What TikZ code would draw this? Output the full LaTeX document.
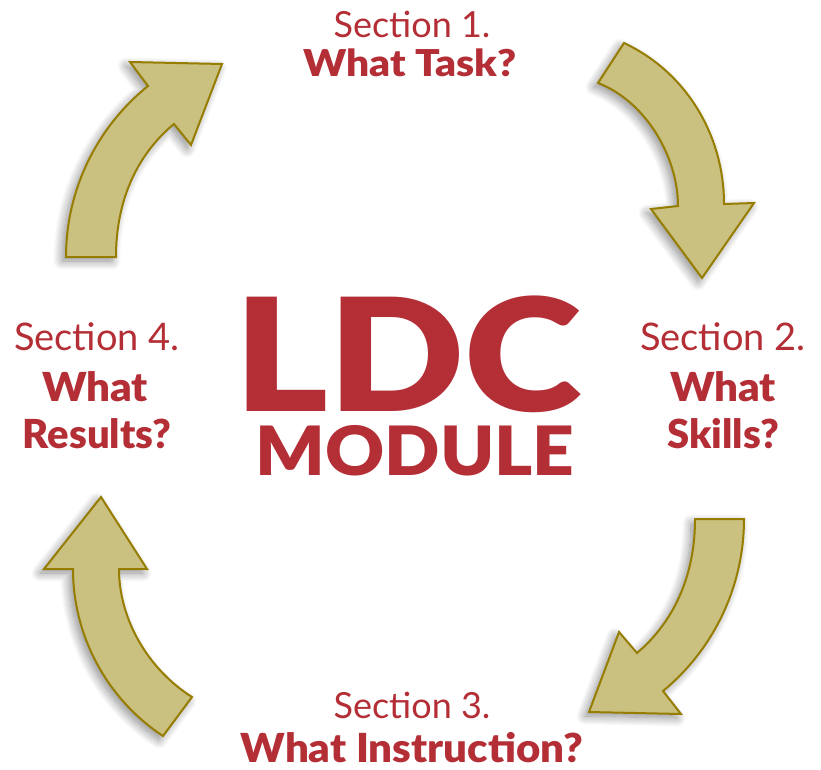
\documentclass[tikz,border=0pt]{standalone}
\usepackage{fontspec}
\setmainfont{Lato}
\newfontfamily\heavy{Lato Black}
\newfontfamily\heavywide{Lato Black}[FakeStretch=1.1]
\newfontfamily\heavymid{Lato Black}[FakeStretch=1.05]
\newfontfamily\heavyldc{Lato Black}[FakeStretch=1.14]
\newfontfamily\heavymod{Lato Black}[FakeStretch=1.07]
\usetikzlibrary{shadows.blur}
\definecolor{ldcred}{RGB}{180,46,54}
\definecolor{arrowfill}{RGB}{202,192,128}
\definecolor{arrowline}{RGB}{150,125,0}
\tikzset{
  bigarrow/.style={fill=arrowfill, draw=arrowline, line width=2pt, line join=miter,
    blur shadow={shadow xshift=-4pt, shadow yshift=-4pt, shadow blur radius=9pt, shadow blur steps=14, shadow opacity=45}},
  sectxt/.style={text=ldcred, font=\fontsize{36}{40}\selectfont, anchor=base, inner sep=0pt},
  sectxtL/.style={text=ldcred, font=\fontsize{38}{40}\selectfont, anchor=base, inner sep=0pt},
  qtxt/.style={text=ldcred, font=\fontsize{37}{40}\selectfont\heavywide, anchor=base, inner sep=0pt},
  qtxtL/.style={text=ldcred, font=\fontsize{40}{44}\selectfont\heavy, anchor=base, inner sep=0pt},
}
\begin{document}
\begin{tikzpicture}[x=1pt,y=-1pt]
\useasboundingbox (0,0) rectangle (821,770);
% arrow 1: top right
\path[bigarrow] (598,83) -- (624,43) .. controls (686,72) and (724,135) .. (724,204)
  -- (754,203) -- (702,278) -- (651,209) -- (678,206)
  .. controls (678,156) and (645,101) .. (598,83) -- cycle;
% arrow 2: top left
\path[bigarrow] (66,257) .. controls (66,191) and (96,128) .. (148,86)
  -- (130,62) -- (222,64) -- (191,145) -- (174,124)
  .. controls (134,157) and (116,205) .. (116,257) -- cycle;
% arrow 3: bottom right
\path[bigarrow] (695,519) -- (744,519) .. controls (744,586) and (714,649) .. (663,691)
  -- (681,714) -- (589,712) -- (619,632) -- (637,653)
  .. controls (677,619) and (695,571) .. (695,519) -- cycle;
% arrow 4: bottom left
\path[bigarrow] (101,497) -- (147,569) -- (119,569)
  .. controls (119,620) and (149,670) .. (192,697) -- (163,736)
  .. controls (107,699) and (73,636) .. (73,569) -- (44,569) -- cycle;
% texts
\node[sectxt] (s1a) at (412,38) {Section 1.};
\node[qtxt] (s1b) at (410,77) {What Task?};
\node[sectxtL] (s2a) at (723,350) {Section 2.};
\node[qtxtL, font=\fontsize{40}{44}\selectfont\heavymid] (s2b) at (723,401) {What};
\node[qtxtL] (s2c) at (723,448) {Skills?};
\node[sectxt] (s3a) at (412,718) {Section 3.};
\node[qtxtL, font=\fontsize{40}{44}\selectfont\heavymid] (s3b) at (412,762) {What Instruction?};
\node[sectxtL] (s4a) at (97,350) {Section 4.};
\node[qtxtL, font=\fontsize{40}{44}\selectfont\heavymid] (s4b) at (95,401) {What};
\node[qtxtL] (s4c) at (97,448) {Results?};
\node[text=ldcred, font=\fontsize{157}{160}\selectfont\heavyldc, anchor=base, inner sep=0pt, text depth=0pt] (ldc) at (408,411) {LDC};
\node[text=ldcred, font=\fontsize{68}{70}\selectfont\heavymod, anchor=base, inner sep=0pt, text height=49pt] (mod) at (415,475) {MODULE};
\end{tikzpicture}
\end{document}
